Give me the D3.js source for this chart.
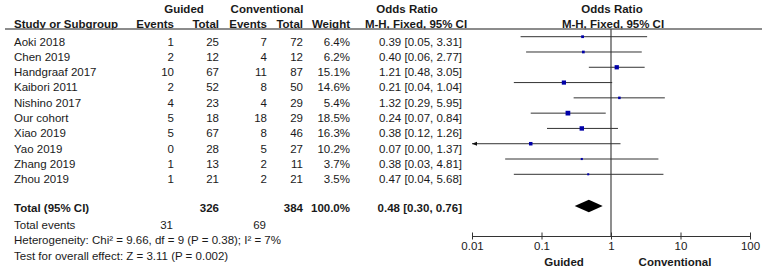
<!DOCTYPE html>
<html>
<head>
<meta charset="utf-8">
<script src="https://cdn.jsdelivr.net/npm/d3@7"></script>
<style>
  body { margin: 0; background: #fff; }
  svg { font-family: "Liberation Sans", Arial, sans-serif; font-size: 11.5px; fill: #1a1a1a; }
  .bold { font-weight: bold; }
</style>
</head>
<body>
<div class="container"></div>
<script>
var studies = ['Aoki 2018', 'Chen 2019', 'Handgraaf 2017', 'Kaibori 2011', 'Nishino 2017',
               'Our cohort', 'Xiao 2019', 'Yao 2019', 'Zhang 2019', 'Zhou 2019'];
var guidedEvents = [1, 2, 10, 2, 4, 5, 5, 0, 1, 1];
var guidedTotal = [25, 12, 67, 52, 23, 18, 67, 28, 13, 21];
var convEvents = [7, 4, 11, 8, 4, 18, 8, 5, 2, 2];
var convTotal = [72, 12, 87, 50, 29, 29, 46, 27, 11, 21];
var weights = [6.4, 6.2, 15.1, 14.6, 5.4, 18.5, 16.3, 10.2, 3.7, 3.5];
var oddsRatio = [0.39, 0.40, 1.21, 0.21, 1.32, 0.24, 0.38, 0.07, 0.38, 0.47];
var ciLower = [0.05, 0.06, 0.48, 0.04, 0.29, 0.07, 0.12, 0.00, 0.03, 0.04];
var ciUpper = [3.31, 2.77, 3.05, 1.04, 5.95, 0.84, 1.26, 1.37, 4.81, 5.68];
var pooled = [0.48, 0.30, 0.76];
var totals = {guided: 326, conv: 384, weight: '100.0%', guidedEvents: 31, convEvents: 69};
var axisTicks = [0.01, 0.1, 1, 10, 100];
var heterogeneity = 'Heterogeneity: Chi² = 9.66, df = 9 (P = 0.38); I² = 7%';
var overallTest = 'Test for overall effect: Z = 3.11 (P = 0.002)';

var W = 765, H = 271;
var fmt = d3.format('.2f');

var svg = d3.select('.container').append('svg')
    .attr('width', W)
    .attr('height', H);

// column anchors (right edges for numbers)
var col = {name: 14, gEv: 174, gTot: 219, cEv: 267, cTot: 303, wt: 350, or: 462};

var textY = d3.scalePoint().domain(studies).range([41.7, 179]);
var plotY = d3.scalePoint().domain(studies).range([36.7, 174.3]);
var x = d3.scaleLog().domain([0.01, 100]).range([472, 750]);
var box = d3.scaleSqrt().domain([0, 20]).range([0, 4.9]);

var addText = (t, px, py, anchor, bold) => {
    svg.append('text')
        .attr('x', px).attr('y', py)
        .attr('dy', '0.35em')
        .attr('text-anchor', anchor || 'start')
        .classed('bold', !!bold)
        .text(t);
}

// headers
addText('Guided', 184, 8.5, 'middle', true);
addText('Conventional', 267, 8.5, 'middle', true);
addText('Odds Ratio', 407, 8.5, 'middle', true);
addText('Odds Ratio', 612, 8.5, 'middle', true);
addText('Study or Subgroup', col.name, 24, 'start', true);
addText('Events', col.gEv, 24, 'end', true);
addText('Total', col.gTot, 24, 'end', true);
addText('Events', col.cEv, 24, 'end', true);
addText('Total', col.cTot, 24, 'end', true);
addText('Weight', col.wt, 24, 'end', true);
addText('M-H, Fixed, 95% CI', 416, 24, 'middle', true);
addText('M-H, Fixed, 95% CI', 613, 24, 'middle', true);

svg.append('line')
    .attr('x1', 5).attr('x2', 762)
    .attr('y1', 29).attr('y2', 29)
    .attr('stroke', '#666').attr('stroke-width', 1.6);

// study rows
studies.forEach((s, i) => {
    var ty = textY(s);
    addText(s, col.name, ty);
    addText(guidedEvents[i], col.gEv, ty, 'end');
    addText(guidedTotal[i], col.gTot, ty, 'end');
    addText(convEvents[i], col.cEv, ty, 'end');
    addText(convTotal[i], col.cTot, ty, 'end');
    addText(weights[i].toFixed(1) + '%', col.wt, ty, 'end');
    addText(`${ fmt(oddsRatio[i]) } [${ fmt(ciLower[i]) }, ${ fmt(ciUpper[i]) }]`, col.or, ty, 'end');
});

// totals
var totY = 208.3;
addText('Total (95% CI)', col.name, totY, 'start', true);
addText(totals.guided, col.gTot, totY, 'end', true);
addText(totals.conv, col.cTot, totY, 'end', true);
addText(totals.weight, col.wt, totY, 'end', true);
addText(`${ fmt(pooled[0]) } [${ fmt(pooled[1]) }, ${ fmt(pooled[2]) }]`, col.or, totY, 'end', true);
addText('Total events', col.name, 224.5);
addText(totals.guidedEvents, col.gEv - 1, 224.5, 'end');
addText(totals.convEvents, col.cEv - 1, 224.5, 'end');
addText(heterogeneity, col.name, 240);
addText(overallTest, col.name, 255.7);

// forest plot
var axisY = 236;
var g = svg.append('g');

g.append('line')
    .attr('x1', x(1)).attr('x2', x(1))
    .attr('y1', 29).attr('y2', axisY)
    .attr('stroke', '#444').attr('stroke-width', 1.2);

studies.forEach((s, i) => {
    var py = plotY(s);
    var lo = ciLower[i] < 0.01 ? x(0.01) : x(ciLower[i]);
    g.append('line')
        .attr('x1', lo).attr('x2', x(Math.min(ciUpper[i], 100)))
        .attr('y1', py).attr('y2', py)
        .attr('stroke', '#333').attr('stroke-width', 1);
    if (ciLower[i] < 0.01) {
        g.append('path')
            .attr('d', `M${ lo },${ py }l5,-2v4z`)
            .attr('fill', '#111');
    }
    var b = box(weights[i]);
    g.append('rect')
        .attr('x', x(oddsRatio[i]) - b / 2)
        .attr('y', py - b / 2)
        .attr('width', b).attr('height', b)
        .attr('fill', '#0000a8');
});

var dy = 206;
g.append('path')
    .attr('d', `M${ x(pooled[1]) },${ dy }L${ x(pooled[0]) },${ dy - 6.3 }L${ x(pooled[2]) },${ dy }L${ x(pooled[0]) },${ dy + 6.3 }Z`)
    .attr('fill', '#000');

var axis = d3.axisBottom(x)
    .tickValues(axisTicks)
    .tickFormat(d => d)
    .tickSizeInner(3.5)
    .tickSizeOuter(0)
    .tickPadding(2);

var ag = g.append('g')
    .attr('transform', `translate(0,${ axisY })`)
    .call(axis);
ag.select('.domain').attr('stroke', '#333');
ag.selectAll('.tick line').attr('y1', -3.5).attr('stroke', '#333');
ag.selectAll('.tick text')
    .attr('font-family', '"Liberation Sans", Arial, sans-serif')
    .attr('font-size', 11.5)
    .attr('fill', '#1a1a1a');

addText('Guided', 564, 262, 'middle', true);
addText('Conventional', 675, 262, 'middle', true);
</script>
</body>
</html>
